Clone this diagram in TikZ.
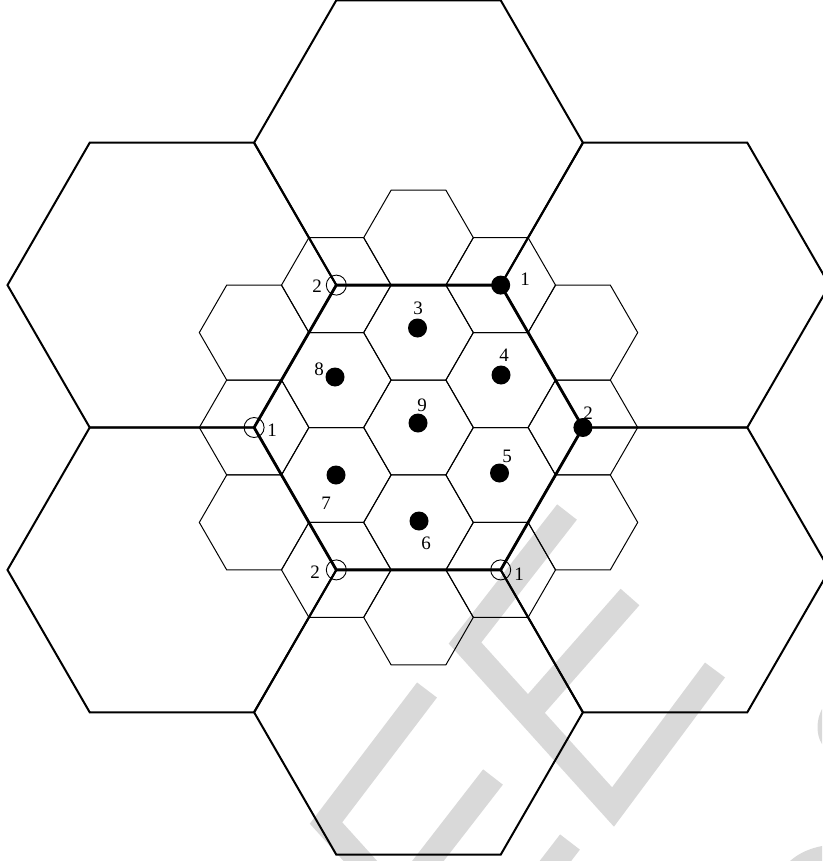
\documentclass[tikz,border=0pt]{standalone}
\usepackage{fontspec}
\setmainfont{Liberation Serif}
\newcommand\hexag[4]{\draw[#1, shift={(#2,#3)}] (0:#4) -- (60:#4) -- (120:#4) -- (180:#4) -- (240:#4) -- (300:#4) -- cycle;}
\begin{document}
\begin{tikzpicture}[x=1pt,y=-1pt,
  bighex/.style={line width=2pt, line join=miter},
  cenhex/.style={line width=2.8pt, line join=miter},
  smallhex/.style={line width=1pt, line join=miter},
  fdot/.style={circle, fill=black, inner sep=0pt, minimum size=19pt},
  odot/.style={circle, draw=black, line width=0.9pt, inner sep=0pt, minimum size=20pt},
  lbl/.style={inner sep=0pt, font=\fontsize{19}{19}\selectfont},
  wm/.style={line width=25pt, draw=black!15, line join=miter}]
\useasboundingbox (0,0) rectangle (822,861);
% watermark
\draw[wm] (567,512) -- (465,643) -- (613,807) -- (715,670);
\draw[wm] (630,597) -- (528,713);
\draw[wm] (427,690) -- (326,823) -- (420,927);
\draw[wm] (493,777) -- (400,897);
\draw[wm] (570,842) -- (540,881);
\fill[black!15] (822,709) .. controls (816,720) and (816,735) .. (822,744) -- cycle;
\fill[black!15] (790,861) .. controls (800,852) and (812,848) .. (822,846) -- (822,861) -- cycle;
% small hexagons
\foreach \q/\s in {-2/0,-2/1,-2/2,-1/-1,-1/0,-1/1,-1/2,0/-2,0/-1,0/0,0/1,0/2,1/-2,1/-1,1/0,1/1,2/-2,2/-1,2/0}{
  \hexag{smallhex}{{418.5+82.2*\q}}{{427.5+94.92*\s+47.46*\q}}{54.8}
}
% big hexagons
\hexag{bighex}{418.5}{142.7}{164.4}
\hexag{bighex}{418.5}{712.3}{164.4}
\hexag{bighex}{171.9}{285.1}{164.4}
\hexag{bighex}{665.1}{285.1}{164.4}
\hexag{bighex}{171.9}{569.9}{164.4}
\hexag{bighex}{665.1}{569.9}{164.4}
\hexag{cenhex}{418.5}{427.5}{164.4}
% dots at cell centres
\node[fdot] (d3) at (417.5,328) {};
\node[fdot] (d4) at (501,375) {};
\node[fdot] (d5) at (499.5,473) {};
\node[fdot] (d6) at (419,521) {};
\node[fdot] (d7) at (336,475) {};
\node[fdot] (d8) at (335,377) {};
\node[fdot] (d9) at (418,423) {};
% vertex markers
\node[fdot] (v1a) at (500.7,285.1) {};
\node[fdot] (v2a) at (582.9,427.5) {};
\node[odot] (v2b) at (336.3,285.1) {};
\node[odot] (v1b) at (254.1,427.5) {};
\node[odot] (v2c) at (336.3,569.9) {};
\node[odot] (v1c) at (500.7,569.9) {};
% labels
\node[lbl] (l3) at (418,308) {3};
\node[lbl] (l8) at (319,369) {8};
\node[lbl] (l9) at (422,405) {9};
\node[lbl] (l4) at (504,355) {4};
\node[lbl] (l5) at (507,456) {5};
\node[lbl] (l6) at (426,543) {6};
\node[lbl] (l7) at (326,503) {7};
\node[lbl] (lv2b) at (317,286) {2};
\node[lbl] (lv1b) at (272,430) {1};
\node[lbl] (lv1a) at (525,279) {1};
\node[lbl] (lv2a) at (588,413) {2};
\node[lbl] (lv2c) at (315,572) {2};
\node[lbl] (lv1c) at (519,574) {1};
\end{tikzpicture}
\end{document}
